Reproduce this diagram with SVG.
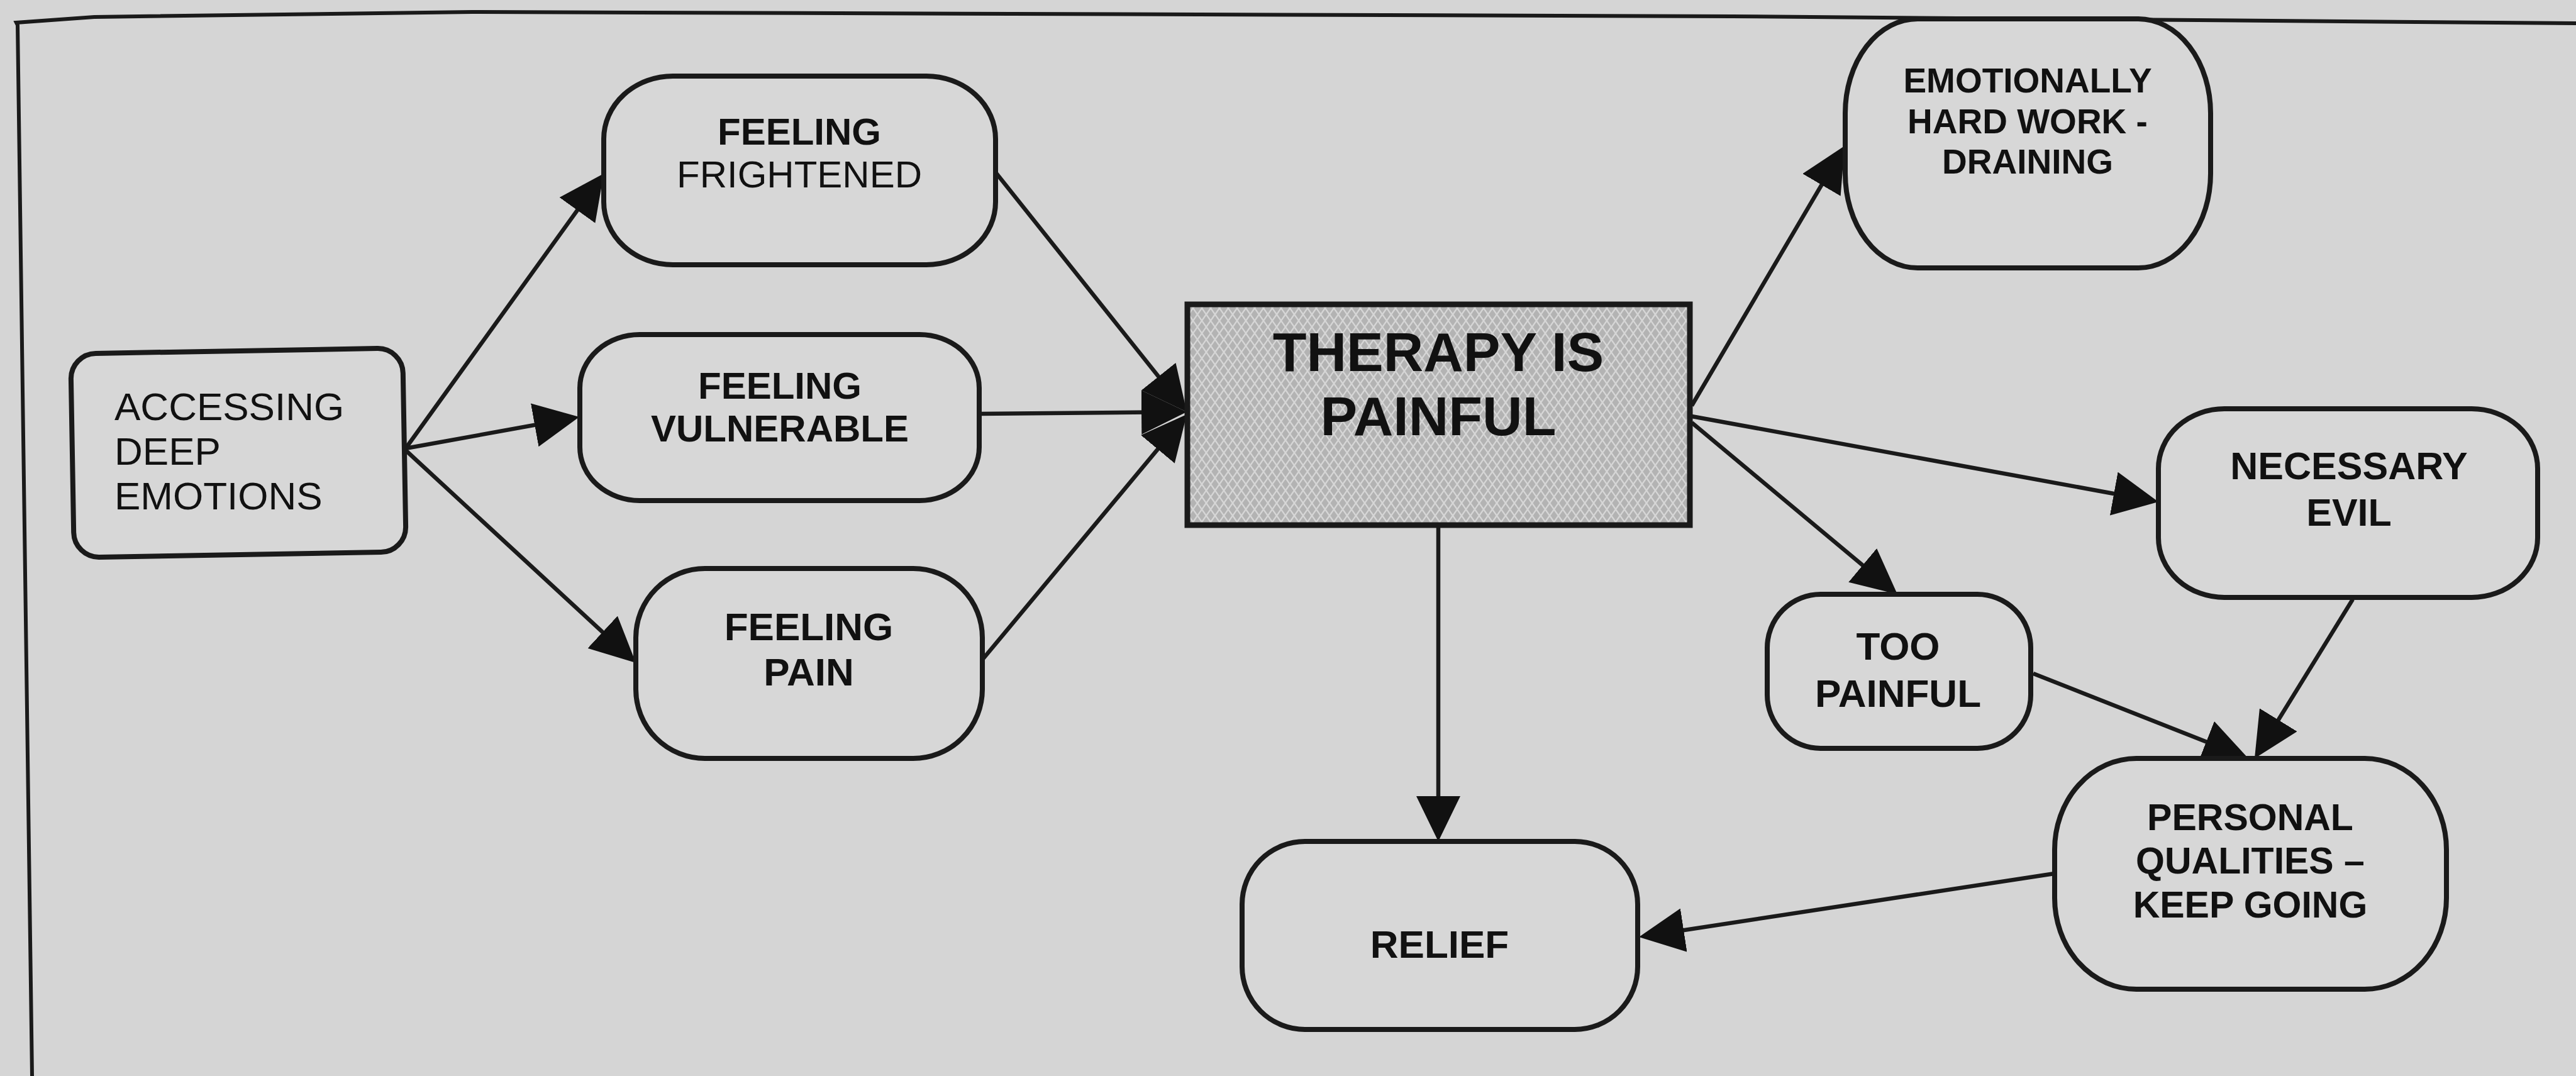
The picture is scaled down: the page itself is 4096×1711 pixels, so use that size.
<svg xmlns="http://www.w3.org/2000/svg" width="4096" height="1711" viewBox="0 0 4096 1711">
<style>
.bg{fill:#d5d5d5}
.box{fill:#d7d7d7;stroke:#1a1a1a;stroke-width:8}
.frame{fill:none;stroke:#1a1a1a;stroke-width:6}
.t{font-family:"Liberation Sans",Arial,sans-serif;fill:#111;text-anchor:middle}
.b{font-weight:bold}
.con line{stroke:#1a1a1a;stroke-width:6.5;marker-end:url(#ah)}
</style>
<defs>
<marker id="ah" viewBox="0 0 72 70" refX="62" refY="35" markerWidth="72" markerHeight="70" markerUnits="userSpaceOnUse" orient="auto">
<path d="M0,0 L72,35 L0,70 z" fill="#111"/>
</marker>
<pattern id="hatch" width="14" height="20" patternUnits="userSpaceOnUse">
<rect width="14" height="20" fill="#b3b3b3"/>
<path d="M0,0 L14,20 M14,0 L0,20" stroke="#d6d6d6" stroke-width="2.4"/>
</pattern>
</defs>
<rect class="bg" x="0" y="0" width="4096" height="1711"/>
<path class="frame" d="M51,1711 L28,40 L26,36 L150,27 L751,19 L2754,26 L4096,37"/>

<g id="connectors" class="con">
<line x1="645" y1="713" x2="954.2" y2="284.1"/>
<line x1="645" y1="713" x2="911.2" y2="664.8"/>
<line x1="645" y1="716" x2="1003.7" y2="1047.2"/>
<line x1="1583" y1="274" x2="1880.8" y2="647.2"/>
<line x1="1558" y1="658" x2="1877" y2="655.1"/>
<line x1="1562" y1="1049" x2="1880.6" y2="666.7"/>
<line x1="2690" y1="645" x2="2927.9" y2="240.6"/>
<line x1="2690" y1="662" x2="3422.2" y2="796.2"/>
<line x1="2690" y1="672" x2="3009.3" y2="938.6"/>
<line x1="2287" y1="835" x2="2287" y2="1328"/>
<line x1="3233" y1="1071" x2="3565.7" y2="1202.3"/>
<line x1="3741" y1="953" x2="3590.2" y2="1197.5"/>
<line x1="3267" y1="1389" x2="2615.9" y2="1488.5"/>
</g>

<g id="accessing">
<rect class="box" x="115" y="558" width="528" height="324" rx="40" ry="40" transform="rotate(-1 379 720)"/>
<text class="t" style="text-anchor:start" font-size="62"><tspan x="182" y="668">ACCESSING</tspan><tspan x="182" y="739">DEEP</tspan><tspan x="182" y="810">EMOTIONS</tspan></text>
</g>

<g id="frightened">
<rect class="box" x="960" y="121" width="623" height="300" rx="110" ry="100"/>
<text class="t" font-size="60"><tspan class="b" x="1271" y="230">FEELING</tspan><tspan x="1271" y="298">FRIGHTENED</tspan></text>
</g>

<g id="vulnerable">
<rect class="box" x="922" y="532" width="635" height="264" rx="95" ry="85"/>
<text class="t b" font-size="60"><tspan x="1240" y="634">FEELING</tspan><tspan x="1240" y="702">VULNERABLE</tspan></text>
</g>

<g id="pain">
<rect class="box" x="1011" y="904" width="551" height="302" rx="110" ry="110"/>
<text class="t b" font-size="62"><tspan x="1286" y="1018">FEELING</tspan><tspan x="1286" y="1090">PAIN</tspan></text>
</g>

<g id="therapy">
<rect x="1888" y="484" width="799" height="351" fill="url(#hatch)" stroke="#1a1a1a" stroke-width="9"/>
<text class="t b" font-size="88"><tspan x="2287" y="590">THERAPY IS</tspan><tspan x="2287" y="692">PAINFUL</tspan></text>
</g>

<g id="emotionally">
<rect class="box" x="2934" y="30" width="581" height="396" rx="115" ry="150"/>
<text class="t b" font-size="55"><tspan x="3224" y="147">EMOTIONALLY</tspan><tspan x="3224" y="212">HARD WORK -</tspan><tspan x="3224" y="276">DRAINING</tspan></text>
</g>

<g id="necessary">
<rect class="box" x="3432" y="650" width="603" height="300" rx="105" ry="95"/>
<text class="t b" font-size="61"><tspan x="3735" y="762">NECESSARY</tspan><tspan x="3735" y="836">EVIL</tspan></text>
</g>

<g id="toopainful">
<rect class="box" x="2810" y="945" width="419" height="245" rx="85" ry="85"/>
<text class="t b" font-size="62"><tspan x="3018" y="1049">TOO</tspan><tspan x="3018" y="1124">PAINFUL</tspan></text>
</g>

<g id="personal">
<rect class="box" x="3267" y="1206" width="623" height="367" rx="130" ry="145"/>
<text class="t b" font-size="59"><tspan x="3578" y="1320">PERSONAL</tspan><tspan x="3578" y="1389">QUALITIES –</tspan><tspan x="3578" y="1459">KEEP GOING</tspan></text>
</g>

<g id="relief">
<rect class="box" x="1975" y="1338" width="629" height="299" rx="100" ry="100"/>
<text class="t b" font-size="62" x="2289" y="1523">RELIEF</text>
</g>
</svg>
